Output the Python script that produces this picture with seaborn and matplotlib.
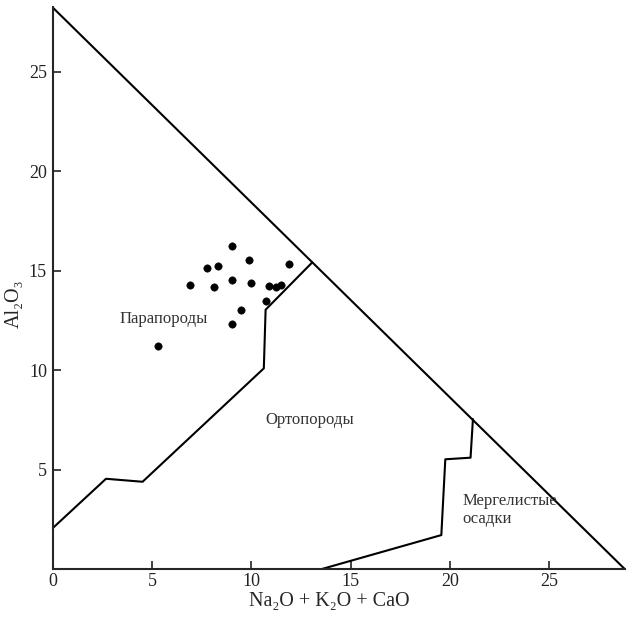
import numpy as np
import pandas as pd
import seaborn as sns
import matplotlib.pyplot as plt

# --- données ---
# échantillons
sample_x = [9.04, 9.86, 7.75, 8.32, 11.92, 6.91, 8.12, 9.04, 9.97, 10.89, 11.22, 11.47, 10.73, 9.49, 9.04, 5.29]
sample_y = [16.26, 15.53, 15.16, 15.23, 15.34, 14.27, 14.20, 14.54, 14.37, 14.24, 14.19, 14.27, 13.50, 13.03, 12.31, 11.21]

# contour du diagramme (axe Y, diagonale)
frame_x = [0, 0, 28.8]
frame_y = [0, 28.25, 0]

# limite парапороды / ортопороды
para_x = [0, 2.69, 4.53, 10.63, 10.72, 13.07]
para_y = [2.06, 4.55, 4.40, 10.10, 13.05, 15.43]

# limite мергелистые осадки
marl_x = [13.5, 19.56, 19.76, 21.03, 21.15]
marl_y = [0, 1.72, 5.53, 5.61, 7.55]

x_ticks = [0, 5, 10, 15, 20, 25]
y_ticks = [5, 10, 15, 20, 25]

sns.set_style("ticks")
plt.rcParams['font.family'] = ['Liberation Serif', 'DejaVu Serif']

fig = plt.figure(figsize=(6.26, 6.19), dpi=100)
ax = fig.add_axes([0.0839, 0.0803, 0.9145, 0.9079])

lw = 1.5
sns.lineplot(x=frame_x, y=frame_y, sort=False, estimator=None, color='black', lw=lw, ax=ax)
sns.lineplot(x=para_x, y=para_y, sort=False, estimator=None, color='black', lw=lw, ax=ax)
sns.lineplot(x=marl_x, y=marl_y, sort=False, estimator=None, color='black', lw=lw, ax=ax)
sns.scatterplot(x=sample_x, y=sample_y, color='black', s=28, edgecolor='black', ax=ax, zorder=5)

ax.text(3.39, 12.58, "Парапороды", fontsize=12, va='center', color='#333333')
ax.text(10.73, 7.5, "Ортопороды", fontsize=12, va='center', color='#333333')
ax.text(20.64, 3.43, "Мергелистые", fontsize=12, va='center', color='#333333')
ax.text(20.64, 2.52, "осадки", fontsize=12, va='center', color='#333333')

ax.set_xlim(0, 28.8)
ax.set_ylim(0, 28.25)
ax.set_xticks(x_ticks)
ax.set_yticks(y_ticks)
ax.tick_params(direction='in', length=6, width=1.2, labelsize=13, colors='#222222')
ax.tick_params(axis='x', pad=3)
ax.tick_params(axis='y', pad=4)
ax.set_xlabel("Na₂O + K₂O + CaO", fontsize=14.5)
ax.set_ylabel("Al₂O₃", fontsize=14.5)
ax.xaxis.set_label_coords(0.483, -0.040)
ax.yaxis.set_label_coords(-0.050, 0.472)

for side in ['top', 'right']:
    ax.spines[side].set_visible(False)
for side in ['left', 'bottom']:
    ax.spines[side].set_linewidth(lw)
    ax.spines[side].set_clip_on(False)

fig.savefig("out.png", dpi=100)
